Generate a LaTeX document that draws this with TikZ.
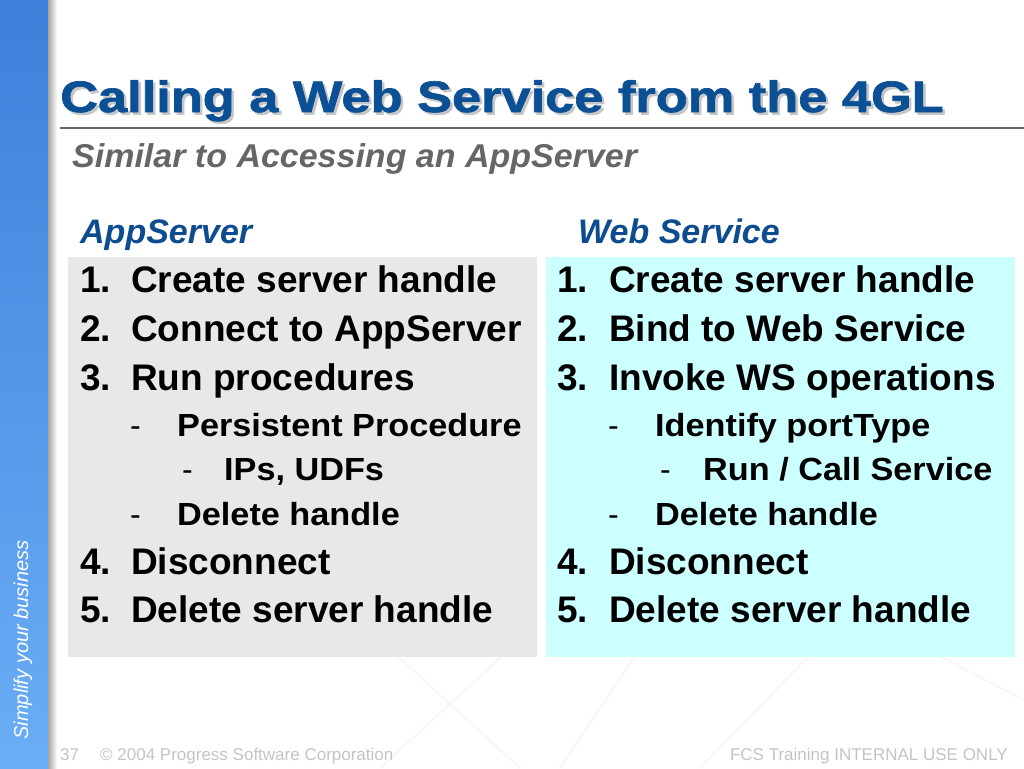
\documentclass[tikz,border=0pt]{standalone}
\usepackage{fontspec}
\setmainfont{Liberation Sans}
\newfontfamily\titlefont{Liberation Sans Bold}[FakeBold=1.6, FakeStretch=1.19]
\newfontfamily\subfont{Liberation Sans Bold}[FakeStretch=1.07]
\newfontfamily\subtitlefont{Liberation Sans Bold Italic}[FakeStretch=1.03]
\usetikzlibrary{calc}
\definecolor{titleblue}{HTML}{0B4F94}
\definecolor{headblue}{HTML}{0D4C8E}
\definecolor{subgray}{HTML}{666666}
\definecolor{footgray}{HTML}{C4C4C4}
\definecolor{bartop}{HTML}{3E7FDB}
\definecolor{barbottom}{HTML}{6AAEF6}
\definecolor{leftfill}{HTML}{E8E8E8}
\definecolor{rightfill}{HTML}{CCFFFF}
\begin{document}
\begin{tikzpicture}[x=1pt, y=-1pt,
    item style/.style={anchor=base west, inner sep=0pt,
        font=\fontsize{37}{37}\selectfont\bfseries},
    sub style/.style={anchor=base west, inner sep=0pt,
        font=\fontsize{32}{32}\subfont},
    dash style/.style={anchor=base west, inner sep=0pt,
        font=\fontsize{32}{32}\selectfont},
    head style/.style={anchor=base west, inner sep=0pt, text=headblue,
        font=\fontsize{34}{34}\selectfont\bfseries\itshape},
    foot style/.style={inner sep=0pt, text=footgray,
        font=\fontsize{17}{17}\selectfont}
    ]
    \useasboundingbox (0, 0) rectangle (1024, 768);
    \fill[white] (0, 0) rectangle (1024, 768);

    % faint background lines
    \draw[gray!7, line width=1.5pt] (560, 768) -- (760, 470) (700, 768) -- (980, 480)
        (600, 480) -- (1024, 700) (380, 768) -- (520, 640) (380, 640) -- (520, 768);

    % side bar
    \shade[top color=bartop, bottom color=barbottom] (0, 0) rectangle (48, 768);
    \shade[left color=gray!70, right color=white] (48, 0) rectangle (57, 768);
    \node[rotate=90, inner sep=0pt, text=white,
        font=\fontsize{20}{20}\selectfont\itshape] (slogan) at (23, 640) {Simplify your business};

    % title
    \node[anchor=base west, inner sep=0pt, text=gray!45,
        font=\fontsize{44}{44}\titlefont] (titleshadow) at (62.5, 114.5)
        {Calling a Web Service from the 4GL};
    \node[anchor=base west, inner sep=0pt, text=titleblue,
        font=\fontsize{44}{44}\titlefont] (title) at (60, 112)
        {Calling a Web Service from the 4GL};
    \coordinate (ruleleft) at (60, 128);
    \coordinate (ruleright) at (1024, 128);
    \draw[subgray, line width=2pt] (ruleleft) -- (ruleright);
    \node[anchor=base west, inner sep=0pt, text=subgray,
        font=\fontsize{33}{33}\subtitlefont] (subtitle) at (72, 167)
        {Similar to Accessing an AppServer};

    % column heads
    \node[head style] (apphead) at (80, 243) {AppServer};
    \node[head style] (wshead) at (578, 243) {Web Service};

    % boxes
    \fill[leftfill] (68, 257) rectangle (537, 657);
    \fill[rightfill] (546, 257) rectangle (1015, 657);

    % AppServer steps
    \node[item style] (a1n) at (80, 292) {1.};
    \node[item style] (a1) at (131, 292) {Create server handle};
    \node[item style] (a2n) at (80, 341) {2.};
    \node[item style] (a2) at (131, 341) {Connect to AppServer};
    \node[item style] (a3n) at (80, 390) {3.};
    \node[item style] (a3) at (131, 390) {Run procedures};
    \node[dash style] (a31d) at (130, 436) {-};
    \node[sub style] (a31) at (177, 436) {Persistent Procedure};
    \node[dash style] (a311d) at (182, 480) {-};
    \node[sub style] (a311) at (224, 480) {IPs, UDFs};
    \node[dash style] (a32d) at (130, 525) {-};
    \node[sub style] (a32) at (177, 525) {Delete handle};
    \node[item style] (a4n) at (80, 574) {4.};
    \node[item style] (a4) at (131, 574) {Disconnect};
    \node[item style] (a5n) at (80, 622) {5.};
    \node[item style] (a5) at (131, 622) {Delete server handle};

    % Web Service steps
    \node[item style] (w1n) at (557, 292) {1.};
    \node[item style] (w1) at (609, 292) {Create server handle};
    \node[item style] (w2n) at (557, 341) {2.};
    \node[item style] (w2) at (609, 341) {Bind to Web Service};
    \node[item style] (w3n) at (557, 390) {3.};
    \node[item style] (w3) at (609, 390) {Invoke WS operations};
    \node[dash style] (w31d) at (608, 436) {-};
    \node[sub style] (w31) at (655, 436) {Identify portType};
    \node[dash style] (w311d) at (660, 480) {-};
    \node[sub style] (w311) at (703, 480) {Run / Call Service};
    \node[dash style] (w32d) at (608, 525) {-};
    \node[sub style] (w32) at (655, 525) {Delete handle};
    \node[item style] (w4n) at (557, 574) {4.};
    \node[item style] (w4) at (609, 574) {Disconnect};
    \node[item style] (w5n) at (557, 622) {5.};
    \node[item style] (w5) at (609, 622) {Delete server handle};

    % footer
    \node[foot style, anchor=base west] (pagenum) at (60, 760) {37};
    \node[foot style, anchor=base west] (copyright) at (100, 760) {© 2004 Progress Software Corporation};
    \node[foot style, anchor=base east] (internal) at (1008, 760) {FCS Training INTERNAL USE ONLY};
\end{tikzpicture}
\end{document}
